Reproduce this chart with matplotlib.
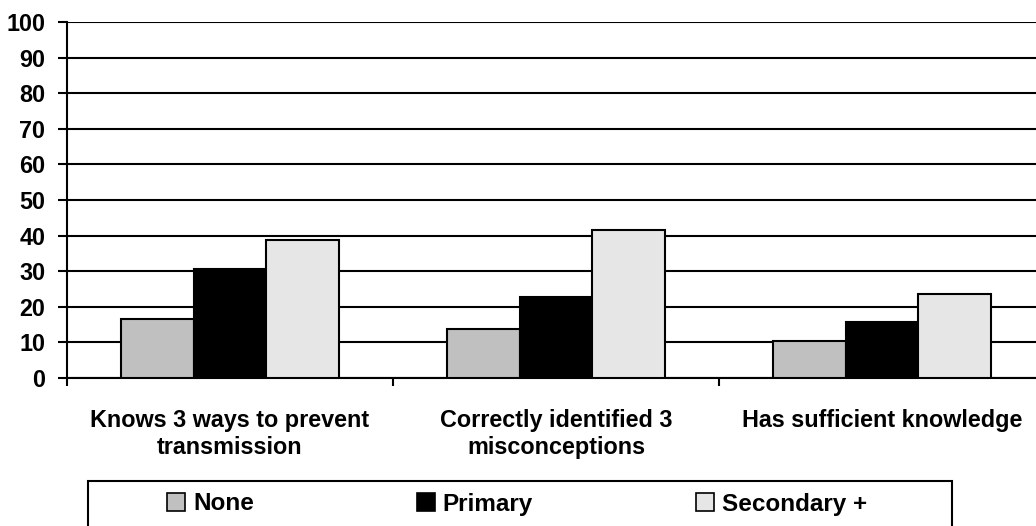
import matplotlib
matplotlib.use("Agg")
import matplotlib.pyplot as plt
from matplotlib.patches import Rectangle, Patch
import numpy as np

categories = ["Knows 3 ways to prevent\ntransmission",
              "Correctly identified 3\nmisconceptions",
              "Has sufficient knowledge"]
series_names = ["None", "Primary", "Secondary +"]
none_vals = [16.7, 13.9, 10.4]
primary_vals = [30.6, 22.8, 15.6]
secondary_vals = [38.7, 41.5, 23.7]
y_ticks = [0, 10, 20, 30, 40, 50, 60, 70, 80, 90, 100]

colors = ["#C0C0C0", "#000000", "#E6E6E6"]

plt.rcParams['font.family'] = ['Liberation Sans', 'DejaVu Sans']
plt.rcParams['font.weight'] = 'bold'

W, H = 1036, 526
fig = plt.figure(figsize=(W / 100, H / 100), dpi=100)
ax = fig.add_axes([67 / W, (H - 378) / H, 978 / W, 356 / H])

FS = 16.8
LFS = 17.5
series = [none_vals, primary_vals, secondary_vals]
x = np.arange(len(categories)) + 0.5
bw = 1 / 4.5
for i, (vals, c, name) in enumerate(zip(series, colors, series_names)):
    ax.bar(x + (i - 1) * bw, vals, width=bw, color=c, edgecolor="black",
           linewidth=1.5, zorder=3, label=name)

ax.set_xlim(0, 3)
ax.set_ylim(0, 100)
ax.set_yticks(y_ticks)
ax.set_yticklabels([str(v) for v in y_ticks], fontsize=FS, fontweight='bold')
ax.yaxis.grid(True, color="black", linewidth=1.5, zorder=0)
ax.set_axisbelow(True)

ax.set_xticks([0, 1, 2, 3])
ax.set_xticklabels([])
ax.set_xticks(x, minor=True)
ax.set_xticklabels(categories, minor=True, fontsize=FS, fontweight='bold',
                   linespacing=1.25)
ax.tick_params(axis='x', which='minor', length=0, pad=22)
ax.tick_params(axis='x', which='major', length=6, width=1.5, direction='out')
ax.tick_params(axis='y', length=6.5, width=1.5, direction='out', pad=9)

for s in ["top", "right"]:
    ax.spines[s].set_visible(False)
for s in ["left", "bottom"]:
    ax.spines[s].set_linewidth(1.5)
    ax.spines[s].set_color("black")

# legend frame
rect = Rectangle((88 / W, -0.05), (952 - 88) / W, (H - 481) / H + 0.05,
                 transform=fig.transFigure, facecolor="white",
                 edgecolor="black", linewidth=1.5, zorder=1)
fig.patches.append(rect)

handles = [Patch(facecolor=c, edgecolor="black", linewidth=1.2) for c in colors]
leg = fig.legend(handles, series_names, loc="center left",
                 bbox_to_anchor=(167 / W, (H - 504) / H), ncol=3,
                 frameon=False, borderpad=0, borderaxespad=0,
                 handlelength=0.74, handleheight=0.74, handletextpad=0.33,
                 columnspacing=6.7, prop={'size': LFS, 'weight': 'bold'})
leg.set_zorder(2)

fig.savefig("out.png", dpi=100)
